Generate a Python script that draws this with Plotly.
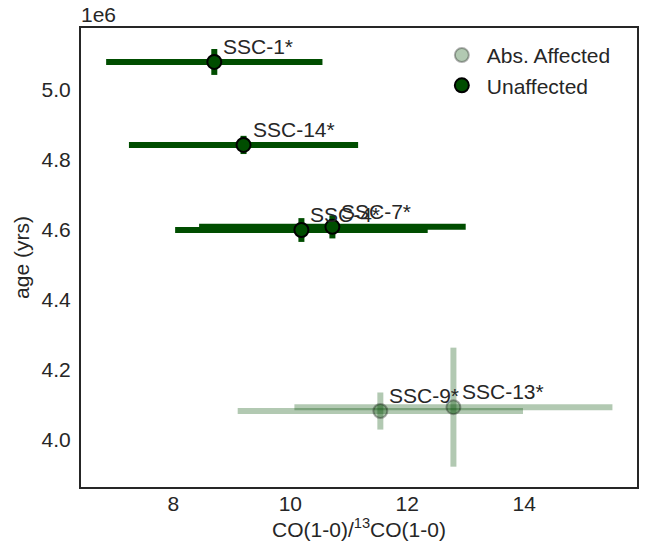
import plotly.graph_objects as go

# Data (age in units of 1e6 yr)
unaff_names = ["SSC-1*", "SSC-14*", "SSC-4*", "SSC-7*"]
unaff_ratio = [8.70, 9.20, 10.19, 10.72]
unaff_ratio_err = [1.85, 1.96, 2.16, 2.28]
unaff_age = [5.080, 4.843, 4.600, 4.609]
unaff_age_err = [0.037, 0.026, 0.034, 0.033]

aff_names = ["SSC-9*", "SSC-13*"]
aff_ratio = [11.54, 12.79]
aff_ratio_err = [2.44, 2.72]
aff_age = [4.083, 4.094]
aff_age_err = [0.053, 0.170]

green = "0,77,0"
font = "Liberation Sans, Arial, sans-serif"
txt = "#262626"
fs = 21

fig = go.Figure()

fig.add_trace(go.Scatter(
    x=aff_ratio, y=aff_age, mode="markers", name="Abs. Affected",
    marker=dict(size=14, color=f"rgba({green},0.3)", line=dict(width=2, color="rgba(0,0,0,0.3)")),
    error_x=dict(type="data", array=aff_ratio_err, thickness=6, width=0, color=f"rgba({green},0.3)"),
    error_y=dict(type="data", array=aff_age_err, thickness=6, width=0, color=f"rgba({green},0.3)"),
))
fig.add_trace(go.Scatter(
    x=unaff_ratio, y=unaff_age, mode="markers", name="Unaffected",
    marker=dict(size=14, color=f"rgb({green})", line=dict(width=2, color="black")),
    error_x=dict(type="data", array=unaff_ratio_err, thickness=6, width=0, color=f"rgb({green})"),
    error_y=dict(type="data", array=unaff_age_err, thickness=6, width=0, color=f"rgb({green})"),
))

for names, xs, ys in [(unaff_names, unaff_ratio, unaff_age), (aff_names, aff_ratio, aff_age)]:
    for n, xv, yv in zip(names, xs, ys):
        fig.add_annotation(x=xv, y=yv, text=n, showarrow=False, xanchor="left", yanchor="bottom",
                           xshift=7, yshift=2, font=dict(size=fs, color=txt, family=font))

fig.add_annotation(xref="paper", yref="paper", x=0, y=1, text="1e6", showarrow=False,
                   xanchor="left", yanchor="bottom", yshift=0, xshift=-2,
                   font=dict(size=fs, color=txt, family=font))

axis_common = dict(showgrid=False, zeroline=False, showline=True, linewidth=2, linecolor=txt,
                   mirror=True, ticks="", automargin=False,
                   tickfont=dict(size=fs, color=txt, family=font))

fig.update_layout(
    width=649, height=551,
    margin=dict(l=81, r=12, t=28, b=64),
    plot_bgcolor="white", paper_bgcolor="white",
    font=dict(family=font, color=txt, size=fs),
    xaxis=dict(range=[6.42, 15.93], tickvals=[8, 10, 12, 14], ticktext=["8", "10", "12", "14"],
               ticklabelstandoff=-3,
               title=dict(text="CO(1-0)/<sup>13</sup>CO(1-0)", font=dict(size=fs, color=txt, family=font), standoff=0),
               **axis_common),
    yaxis=dict(range=[3.866, 5.177], tickvals=[4.0, 4.2, 4.4, 4.6, 4.8, 5.0],
               ticktext=["4.0", "4.2", "4.4", "4.6", "4.8", "5.0"], ticklabelstandoff=4,
               title=dict(text="age (yrs)", font=dict(size=fs, color=txt, family=font), standoff=6),
               **axis_common),
    legend=dict(x=0.64, y=0.985, xanchor="left", yanchor="top", bgcolor="rgba(0,0,0,0)",
                font=dict(size=fs, color=txt, family=font), itemwidth=40),
    showlegend=True,
)

fig.write_html("out.html", post_script="document.body.style.margin='0';",
               config={"displayModeBar": False})
